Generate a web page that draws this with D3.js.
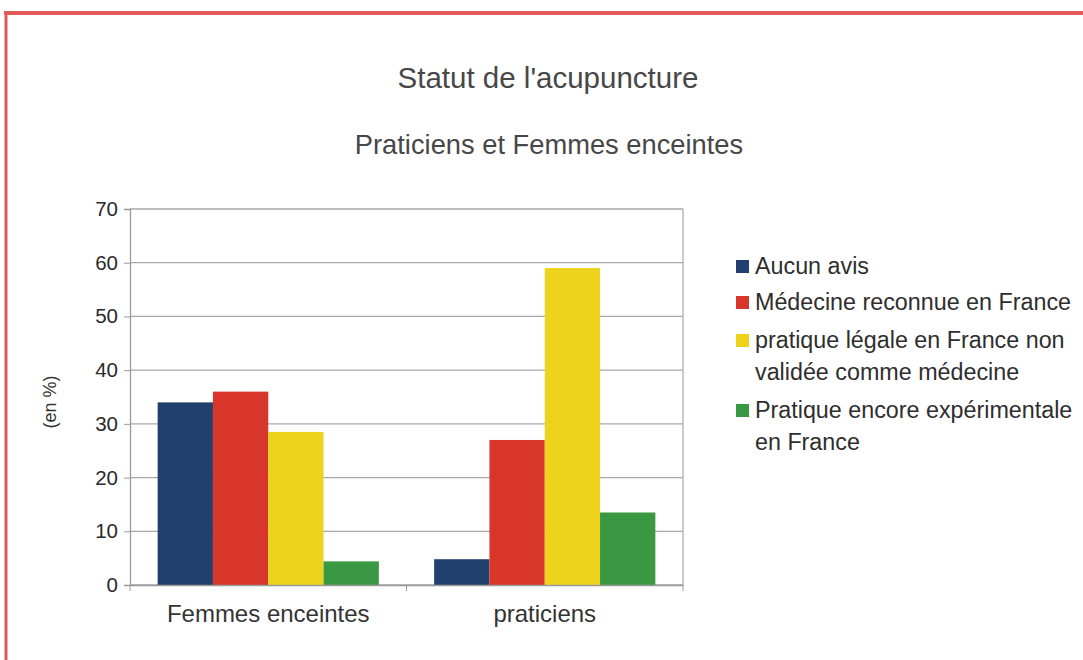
<!DOCTYPE html>
<html>
<head>
<meta charset="utf-8">
<script src="https://cdn.jsdelivr.net/npm/d3@7"></script>
<style>
  html, body { margin: 0; padding: 0; background: #fff; }
  svg { display: block; font-family: "Liberation Sans", Arial, sans-serif; }
</style>
</head>
<body>
<svg id="chart" width="1083" height="660"></svg>
<script>
// ---- data ----
const categories = ["Femmes enceintes", "praticiens"];
const seriesNames = [
  "Aucun avis",
  "Médecine reconnue en France",
  "pratique légale en France non validée comme médecine",
  "Pratique encore expérimentale en France"
];
const legendLines = [
  ["Aucun avis"],
  ["Médecine reconnue en France"],
  ["pratique légale en France non", "validée comme médecine"],
  ["Pratique encore expérimentale", "en France"]
];
const aucunAvis = [34, 4.8];
const medecineReconnue = [36, 27];
const pratiqueLegale = [28.5, 59];
const pratiqueExperimentale = [4.4, 13.5];
const seriesValues = [aucunAvis, medecineReconnue, pratiqueLegale, pratiqueExperimentale];
const seriesColors = ["#21406e", "#d8362a", "#eed31d", "#3a9842"];
const yTicks = [0, 10, 20, 30, 40, 50, 60, 70];
const titleText = "Statut de l'acupuncture";
const subtitleText = "Praticiens et Femmes enceintes";
const yAxisTitle = "(en %)";

// ---- layout ----
const svg = d3.select("#chart");
const plot = { left: 130, right: 683, top: 209, bottom: 585 };

// frame (red scan border)
svg.append("line").attr("x1", 4).attr("x2", 1083).attr("y1", 13).attr("y2", 13)
  .attr("stroke", "#e15a5a").attr("stroke-width", 4);
svg.append("line").attr("x1", 6).attr("x2", 6).attr("y1", 11).attr("y2", 660)
  .attr("stroke", "#e15a5a").attr("stroke-width", 3);

// titles
svg.append("text").attr("x", 548).attr("y", 88).attr("text-anchor", "middle")
  .attr("font-size", 29.5).attr("fill", "#474747").text(titleText);
svg.append("text").attr("x", 549).attr("y", 154).attr("text-anchor", "middle")
  .attr("font-size", 27.3).attr("fill", "#474747").text(subtitleText);

// scales
const y = d3.scaleLinear().domain([0, 70]).range([plot.bottom, plot.top]);
const x0 = d3.scaleBand().domain(categories).range([plot.left, plot.right])
  .paddingInner(0.2).paddingOuter(0.1);
const x1 = d3.scaleBand().domain(d3.range(seriesNames.length)).range([0, x0.bandwidth()]);

// gridlines
svg.append("g").selectAll("line").data(yTicks).join("line")
  .attr("x1", plot.left).attr("x2", plot.right)
  .attr("y1", d => y(d)).attr("y2", d => y(d))
  .attr("stroke", "#a8a8a8").attr("stroke-width", 1.3);
// right border
svg.append("line").attr("x1", plot.right).attr("x2", plot.right)
  .attr("y1", plot.top).attr("y2", plot.bottom).attr("stroke", "#b0b0b0").attr("stroke-width", 1.3);

// bars
const groups = svg.append("g").selectAll("g").data(categories).join("g")
  .attr("transform", c => `translate(${x0(c)},0)`);
groups.selectAll("rect").data((c, ci) => seriesValues.map((vals, si) => ({ si, v: vals[ci] })))
  .join("rect")
  .attr("x", d => x1(d.si))
  .attr("width", x1.bandwidth())
  .attr("y", d => y(d.v))
  .attr("height", d => y(0) - y(d.v))
  .attr("fill", d => seriesColors[d.si]);

// y axis
const yAxis = d3.axisLeft(y).tickValues(yTicks).tickSize(6).tickPadding(6);
const gy = svg.append("g").attr("transform", `translate(${plot.left},0)`).call(yAxis);
gy.select(".domain").attr("stroke", "#9a9a9a").attr("stroke-width", 1.3);
gy.selectAll(".tick line").attr("stroke", "#9a9a9a");
gy.selectAll(".tick text").attr("font-size", 20.5).attr("fill", "#2a2a2a")
  .attr("font-family", "Liberation Sans, Arial, sans-serif");

// x axis
const xAxis = d3.axisBottom(x0).tickSize(0).tickPadding(20);
const gx = svg.append("g").attr("transform", `translate(0,${plot.bottom})`).call(xAxis);
gx.select(".domain").attr("stroke", "#9a9a9a").attr("stroke-width", 1.3);
gx.selectAll(".tick text").attr("font-size", 24).attr("fill", "#333")
  .attr("font-family", "Liberation Sans, Arial, sans-serif");
// category separator ticks
const sepTicks = [plot.left, (plot.left + plot.right) / 2, plot.right];
svg.append("g").selectAll("line").data(sepTicks).join("line")
  .attr("x1", d => d).attr("x2", d => d)
  .attr("y1", plot.bottom).attr("y2", plot.bottom + 6)
  .attr("stroke", "#9a9a9a");

// y axis title
svg.append("text").attr("transform", "translate(56,402) rotate(-90)")
  .attr("text-anchor", "middle").attr("font-size", 18).attr("fill", "#333").text(yAxisTitle);

// legend
const legendRowsY = [266, 302, 340, 410];
const lineGap = 32;
const legend = svg.append("g");
legendLines.forEach((lines, i) => {
  legend.append("rect").attr("x", 736).attr("y", legendRowsY[i] - 6)
    .attr("width", 13).attr("height", 13).attr("fill", seriesColors[i]);
  const t = legend.append("text").attr("x", 755).attr("y", legendRowsY[i] + 8)
    .attr("font-size", 23.3).attr("fill", "#2e2e2e");
  lines.forEach((ln, j) => {
    t.append("tspan").attr("x", 755).attr("dy", j === 0 ? 0 : lineGap).text(ln);
  });
});
</script>
</body>
</html>
